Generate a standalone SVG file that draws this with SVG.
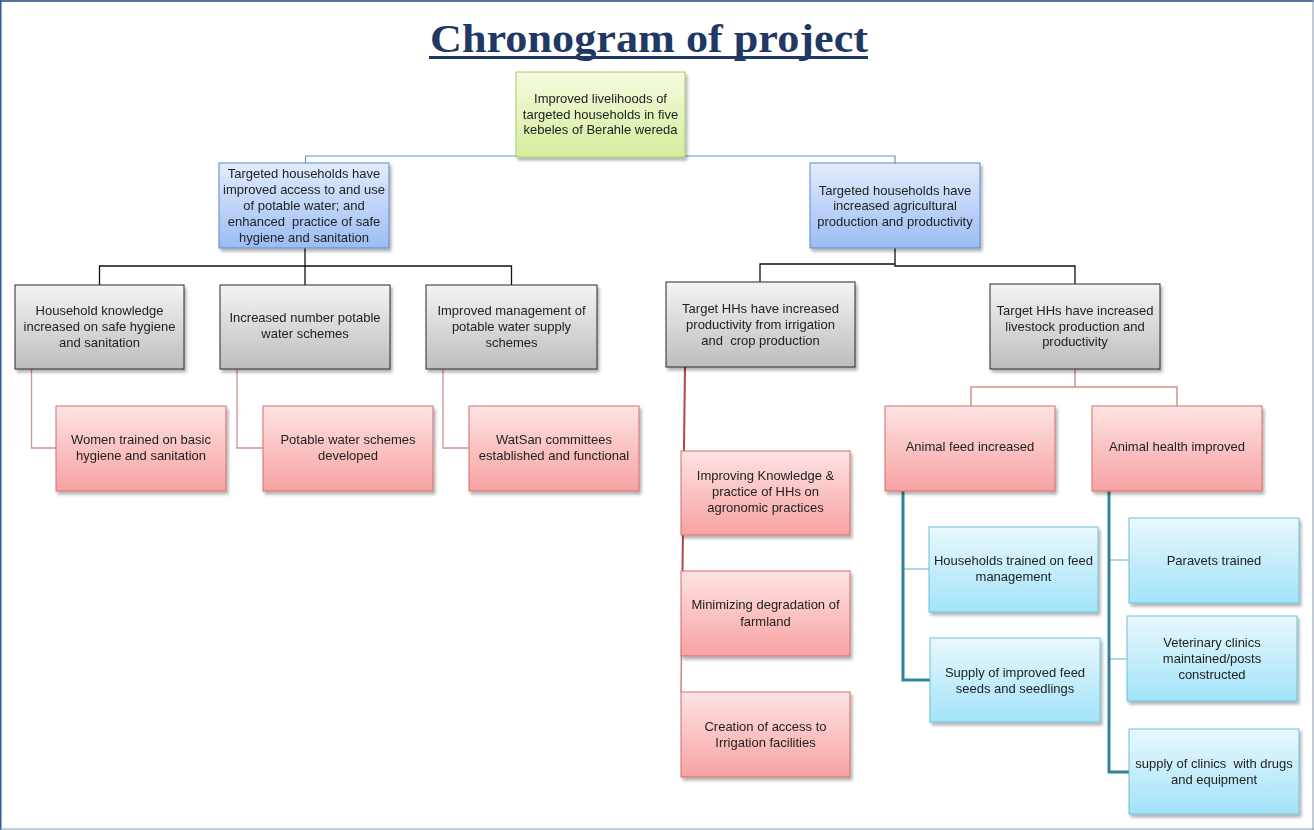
<svg xmlns="http://www.w3.org/2000/svg" width="1314" height="830" viewBox="0 0 1314 830">
<style>
.t{font-family:"Liberation Sans",Arial,sans-serif;font-size:13px;fill:#222222;text-anchor:middle;white-space:pre}
.box{stroke-width:1}
.g{fill:url(#gGreen);stroke:#a9c96e}
.b{fill:url(#gBlue);stroke:#5b8bd0}
.k{fill:url(#gGrey);stroke:#2b2b2b}
.r{fill:url(#gRed);stroke:#d0706e}
.c{fill:url(#gCyan);stroke:#6cc0d8}
.title{font-family:"Liberation Serif","Times New Roman",serif;font-weight:bold;font-size:41px;fill:#1f3864}
</style>
<defs>
<linearGradient id="gGreen" x1="0" y1="0" x2="0" y2="1"><stop offset="0" stop-color="#f5fbe0"/><stop offset="1" stop-color="#d3ee9c"/></linearGradient>
<linearGradient id="gBlue" x1="0" y1="0" x2="0" y2="1"><stop offset="0" stop-color="#e3ecfc"/><stop offset="1" stop-color="#9bbcf4"/></linearGradient>
<linearGradient id="gGrey" x1="0" y1="0" x2="0" y2="1"><stop offset="0" stop-color="#f4f4f4"/><stop offset="1" stop-color="#bdbdbd"/></linearGradient>
<linearGradient id="gRed" x1="0" y1="0" x2="0" y2="1"><stop offset="0" stop-color="#fde3e3"/><stop offset="1" stop-color="#f8a2a2"/></linearGradient>
<linearGradient id="gCyan" x1="0" y1="0" x2="0" y2="1"><stop offset="0" stop-color="#e9f8fd"/><stop offset="1" stop-color="#a2e3f9"/></linearGradient>
<filter id="sh" x="-10%" y="-10%" width="125%" height="130%"><feDropShadow dx="2" dy="3" stdDeviation="1.5" flood-color="#000" flood-opacity="0.3"/></filter>
</defs>
<rect x="0" y="0" width="1314" height="830" fill="#ffffff"/>
<line x1="0" y1="1" x2="1314" y2="1" stroke="#5b7299" stroke-width="2"/>
<line x1="0.5" y1="0" x2="0.5" y2="830" stroke="#2c5a9a" stroke-width="2"/>
<line x1="1313" y1="0" x2="1313" y2="830" stroke="#8a9bb0" stroke-width="1"/>
<line x1="0" y1="829" x2="1314" y2="829" stroke="#8a9bb0" stroke-width="1"/>

<g id="title">
<text class="title" x="649" y="52" text-anchor="middle" textLength="438" lengthAdjust="spacingAndGlyphs">Chronogram of project</text>
<line x1="429" y1="57.5" x2="868" y2="57.5" stroke="#1f3864" stroke-width="3"/>
</g>

<g id="connectors" fill="none">
<path d="M305.5,163 V156 H895 V163" stroke="#6f93c6" stroke-width="1.2"/>
<path d="M305,248 V285 M99.5,285 V266 H511.5 V285" stroke="#111" stroke-width="1.3"/>
<path d="M760,282 V264 H895 V248 M895,264 V266 H1075 V284" stroke="#111" stroke-width="1.3"/>
<path d="M31.5,369 V448 H56 M237,369 V448 H263 M443,369 V448 H469" stroke="#d58f8e" stroke-width="1.3"/>
<path d="M685,367 L682.5,571" stroke="#b04646" stroke-width="2"/>
<path d="M682.5,571 L681,692" stroke="#cf8080" stroke-width="1.5"/>
<path d="M1075,369 V387 H971 V406 M1075,387 H1177 V406" stroke="#d58f8e" stroke-width="1.5"/>
<path d="M903,569 H929 M1109,560 H1129 M1109,659 H1127" stroke="#92cddc" stroke-width="1.5"/>
<path d="M903,491 V680 H930 M1109,491 V772 H1129" stroke="#31849b" stroke-width="3"/>
</g>

<g id="root" filter="url(#sh)"><rect class="box g" x="516" y="72" width="169" height="85"/>
<text class="t" x="600.5" y="103">Improved livelihoods of</text><text class="t" x="600.5" y="118.5">targeted households in five</text><text class="t" x="600.5" y="133.5">kebeles of Berahle wereda</text></g>

<g id="water" filter="url(#sh)"><rect class="box b" x="219" y="163" width="170" height="85"/>
<text class="t" x="304" y="177.5">Targeted households have</text><text class="t" x="304" y="193.5">improved access to and use</text><text class="t" x="304" y="209.5">of potable water; and</text><text class="t" x="304" y="225.5">enhanced  practice of safe</text><text class="t" x="304" y="241.5">hygiene and sanitation</text></g>

<g id="agri" filter="url(#sh)"><rect class="box b" x="810" y="163" width="170" height="85"/>
<text class="t" x="895" y="194.5">Targeted households have</text><text class="t" x="895" y="210">increased agricultural</text><text class="t" x="895" y="225.5">production and productivity</text></g>

<g id="hygiene" filter="url(#sh)"><rect class="box k" x="15" y="285" width="169" height="84"/>
<text class="t" x="99.5" y="315">Household knowledge</text><text class="t" x="99.5" y="331">increased on safe hygiene</text><text class="t" x="99.5" y="347">and sanitation</text></g>

<g id="schemes" filter="url(#sh)"><rect class="box k" x="220" y="285" width="170" height="84"/>
<text class="t" x="305" y="322">Increased number potable</text><text class="t" x="305" y="338">water schemes</text></g>

<g id="management" filter="url(#sh)"><rect class="box k" x="426" y="285" width="171" height="84"/>
<text class="t" x="511.5" y="315">Improved management of</text><text class="t" x="511.5" y="331">potable water supply</text><text class="t" x="511.5" y="347">schemes</text></g>

<g id="irrigation" filter="url(#sh)"><rect class="box k" x="666" y="282" width="189" height="85"/>
<text class="t" x="760.5" y="313">Target HHs have increased</text><text class="t" x="760.5" y="328.5">productivity from irrigation</text><text class="t" x="760.5" y="344.5">and  crop production</text></g>

<g id="livestock" filter="url(#sh)"><rect class="box k" x="990" y="284" width="170" height="85"/>
<text class="t" x="1075" y="314.5">Target HHs have increased</text><text class="t" x="1075" y="331">livestock production and</text><text class="t" x="1075" y="346">productivity</text></g>

<g id="women" filter="url(#sh)"><rect class="box r" x="56" y="406" width="170" height="85"/>
<text class="t" x="141" y="443.5">Women trained on basic</text><text class="t" x="141" y="459.5">hygiene and sanitation</text></g>

<g id="developed" filter="url(#sh)"><rect class="box r" x="263" y="406" width="170" height="85"/>
<text class="t" x="348" y="443.5">Potable water schemes</text><text class="t" x="348" y="459.5">developed</text></g>

<g id="watsan" filter="url(#sh)"><rect class="box r" x="469" y="406" width="170" height="85"/>
<text class="t" x="554" y="443.5">WatSan committees</text><text class="t" x="554" y="459.5">established and functional</text></g>

<g id="agronomic" filter="url(#sh)"><rect class="box r" x="681" y="451" width="169" height="84"/>
<text class="t" x="765.5" y="479.5">Improving Knowledge &amp;</text><text class="t" x="765.5" y="495.5">practice of HHs on</text><text class="t" x="765.5" y="511.5">agronomic practices</text></g>

<g id="farmland" filter="url(#sh)"><rect class="box r" x="681" y="571" width="169" height="85"/>
<text class="t" x="765.5" y="609">Minimizing degradation of</text><text class="t" x="765.5" y="625.5">farmland</text></g>

<g id="access" filter="url(#sh)"><rect class="box r" x="681" y="692" width="169" height="85"/>
<text class="t" x="765.5" y="730.5">Creation of access to</text><text class="t" x="765.5" y="746.5">Irrigation facilities</text></g>

<g id="feed" filter="url(#sh)"><rect class="box r" x="885" y="406" width="170" height="85"/>
<text class="t" x="970" y="451">Animal feed increased</text></g>

<g id="health" filter="url(#sh)"><rect class="box r" x="1092" y="406" width="170" height="85"/>
<text class="t" x="1177" y="451">Animal health improved</text></g>

<g id="feedtrain" filter="url(#sh)"><rect class="box c" x="929" y="527" width="169" height="85"/>
<text class="t" x="1013.5" y="564.5">Households trained on feed</text><text class="t" x="1013.5" y="581">management</text></g>

<g id="seeds" filter="url(#sh)"><rect class="box c" x="930" y="638" width="170" height="84"/>
<text class="t" x="1015" y="676.5">Supply of improved feed</text><text class="t" x="1015" y="692.5">seeds and seedlings</text></g>

<g id="paravets" filter="url(#sh)"><rect class="box c" x="1129" y="518" width="170" height="85"/>
<text class="t" x="1214" y="564.5">Paravets trained</text></g>

<g id="clinics" filter="url(#sh)"><rect class="box c" x="1127" y="616" width="170" height="85"/>
<text class="t" x="1212" y="646.5">Veterinary clinics</text><text class="t" x="1212" y="663">maintained/posts</text><text class="t" x="1212" y="678.5">constructed</text></g>

<g id="drugs" filter="url(#sh)"><rect class="box c" x="1129" y="729" width="170" height="85"/>
<text class="t" x="1214" y="767.5">supply of clinics  with drugs</text><text class="t" x="1214" y="783.5">and equipment</text></g>
</svg>
